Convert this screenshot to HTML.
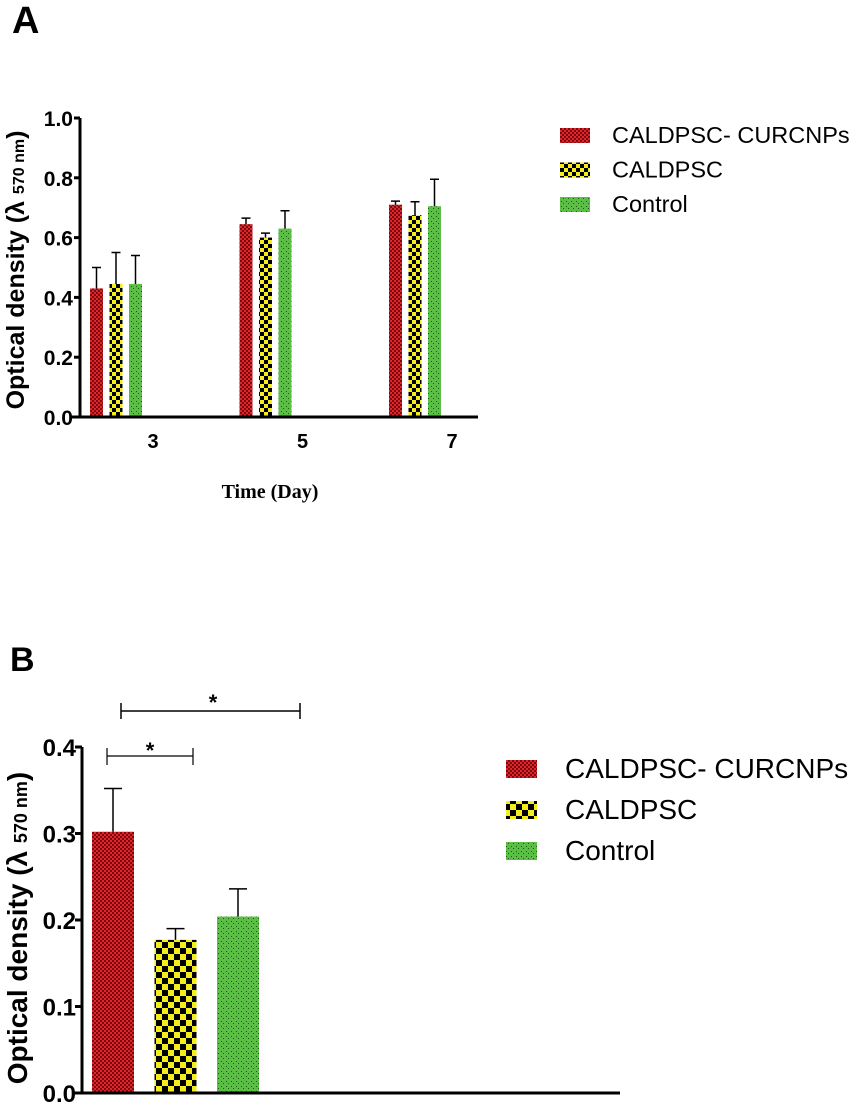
<!DOCTYPE html>
<html><head><meta charset="utf-8"><style>
body{margin:0;background:#fff;}
svg{display:block;font-family:"Liberation Sans",sans-serif;}
</style></head><body>
<svg id="chart" width="856" height="1104" viewBox="0 0 856 1104" xmlns="http://www.w3.org/2000/svg">
<defs>
<pattern id="pRed" width="4" height="4" patternUnits="userSpaceOnUse"><rect width="4" height="4" fill="#e0262b"/><rect width="2" height="2" fill="#7a0c10"/><rect x="2" y="2" width="2" height="2" fill="#7a0c10"/></pattern>
<pattern id="pYel" width="8" height="8" patternUnits="userSpaceOnUse"><rect width="8" height="8" fill="#f4ee1c"/><rect width="4" height="4" fill="#000"/><rect x="4" y="4" width="4" height="4" fill="#000"/></pattern>
<pattern id="pYelB" width="12" height="12" patternUnits="userSpaceOnUse"><rect width="12" height="12" fill="#f4ee1c"/><rect width="6" height="6" fill="#000"/><rect x="6" y="6" width="6" height="6" fill="#000"/></pattern>
<pattern id="pGrn" width="5" height="5" patternUnits="userSpaceOnUse"><rect width="5" height="5" fill="#5cbf45"/><rect x="1" y="1" width="1" height="1" fill="#1c5a14"/><rect x="3" y="3" width="1" height="1" fill="#1c5a14"/></pattern>
</defs>
<g id="gA"></g><g id="gB"></g>
</svg>
<script>
const NS="http://www.w3.org/2000/svg";
const seriesNames=["CALDPSC- CURCNPs","CALDPSC","Control"];
const fills=["url(#pRed)","url(#pYel)","url(#pGrn)"];
const fillsB=["url(#pRed)","url(#pYelB)","url(#pGrn)"];
const daysA=["3","5","7"];
const meanA_red=[0.43,0.645,0.71];
const meanA_yel=[0.445,0.60,0.675];
const meanA_grn=[0.445,0.63,0.705];
const errA_red=[0.07,0.02,0.012];
const errA_yel=[0.105,0.015,0.045];
const errA_grn=[0.095,0.06,0.09];
const ticksA=[0,0.2,0.4,0.6,0.8,1.0];
const meanB=[0.302,0.177,0.204];
const errB=[0.05,0.013,0.032];
const ticksB=[0,0.1,0.2,0.3,0.4];

function el(p,tag,attrs,txt){const e=document.createElementNS(NS,tag);for(const k in attrs)e.setAttribute(k,attrs[k]);if(txt!==undefined)e.textContent=txt;p.appendChild(e);return e;}

// ---------- Chart A ----------
const gA=document.getElementById('gA');
const yA=v=>417-v*299;
const xA=(g,s)=>90+g*149.5+s*19.5;
let t=el(gA,'text',{x:12,y:33,'font-size':38,'font-weight':'bold'},'A');

const seriesA=[meanA_red,meanA_yel,meanA_grn], errsA=[errA_red,errA_yel,errA_grn];
for(let s=0;s<3;s++)for(let g=0;g<3;g++){
  const x=xA(g,s),v=seriesA[s][g],e=errsA[s][g];
  const r=el(gA,'rect',{x:x,y:yA(v),width:13,height:yA(0)-yA(v),fill:fills[s]});
  
  const l=el(gA,'path',{d:`M${x+6.5},${yA(v)}V${yA(v+e)}M${x+2},${yA(v+e)}H${x+11}`,stroke:'#000','stroke-width':1.5,fill:'none'});
  
}
let ax=el(gA,'path',{d:`M80,${yA(1)}V${yA(0)}M72,${yA(0)}H478`,stroke:'#000','stroke-width':3,fill:'none'});

ticksA.forEach(v=>{
  const k=el(gA,'line',{x1:74,x2:80,y1:yA(v),y2:yA(v),stroke:'#000','stroke-width':3});
  
  const tl=el(gA,'text',{x:73,y:yA(v)+8,'font-size':21,'font-weight':'bold','text-anchor':'end'},v.toFixed(1));
  
});
daysA.forEach((d,g)=>{
  const tl=el(gA,'text',{x:xA(g,0)+63,y:448,'font-size':20,'font-weight':'bold','text-anchor':'middle'},d);
  
});
t=el(gA,'text',{x:270,y:498,'font-size':20,'font-weight':'bold','text-anchor':'middle','font-family':'Liberation Serif,serif'},'Time (Day)');

t=el(gA,'text',{transform:'translate(24,270) rotate(-90)','font-size':25,'font-weight':'bold','text-anchor':'middle'});

t.innerHTML='Optical density (λ <tspan font-size="16">570 nm</tspan>)';
seriesNames.forEach((n,i)=>{
  const yy=128+i*34.5;
  const sw=el(gA,'rect',{x:560,y:yy,width:30,height:15,fill:fills[i]});
  
  const lt=el(gA,'text',{x:612,y:yy+15,'font-size':23.5},n);
  
});

// ---------- Chart B ----------
const gB=document.getElementById('gB');
const yB=v=>1093-v*865;
const xB=i=>92+i*62.5;
t=el(gB,'text',{x:10,y:671,'font-size':34,'font-weight':'bold'},'B');

meanB.forEach((v,i)=>{
  const x=xB(i),e=errB[i];
  const r=el(gB,'rect',{x:x,y:yB(v),width:42,height:yB(0)-yB(v),fill:fillsB[i]});
  
  const l=el(gB,'path',{d:`M${x+21},${yB(v)}V${yB(v+e)}M${x+12},${yB(v+e)}H${x+30}`,stroke:'#000','stroke-width':1.5,fill:'none'});
  
});
ax=el(gB,'path',{d:`M82,${yB(0.4)}V${yB(0)}M74,${yB(0)}H620`,stroke:'#000','stroke-width':3,fill:'none'});

ticksB.forEach(v=>{
  const k=el(gB,'line',{x1:75,x2:82,y1:yB(v),y2:yB(v),stroke:'#000','stroke-width':3});
  
  const tl=el(gB,'text',{x:76,y:yB(v)+9,'font-size':24,'font-weight':'bold','text-anchor':'end'},v.toFixed(1));
  
});
let br=el(gB,'path',{d:'M121,703V719M121,711H300M300,703V719',stroke:'#000','stroke-width':1.5,fill:'none'});

t=el(gB,'text',{x:213,y:710,'font-size':22,'font-weight':'bold','text-anchor':'middle'},'*');

br=el(gB,'path',{d:'M107,748V765M107,756H193M193,748V765',stroke:'#000','stroke-width':1.2,fill:'none'});

t=el(gB,'text',{x:150,y:758,'font-size':22,'font-weight':'bold','text-anchor':'middle'},'*');

t=el(gB,'text',{transform:'translate(27,928) rotate(-90)','font-size':28,'font-weight':'bold','text-anchor':'middle'});

t.innerHTML='Optical density (λ <tspan font-size="18">570 nm</tspan>)';
seriesNames.forEach((n,i)=>{
  const yy=760+i*41;
  const sw=el(gB,'rect',{x:506,y:yy,width:31,height:18,fill:fillsB[i]});
  
  const lt=el(gB,'text',{x:565,y:yy+18,'font-size':28},n);
  
});
</script>
</body></html>
